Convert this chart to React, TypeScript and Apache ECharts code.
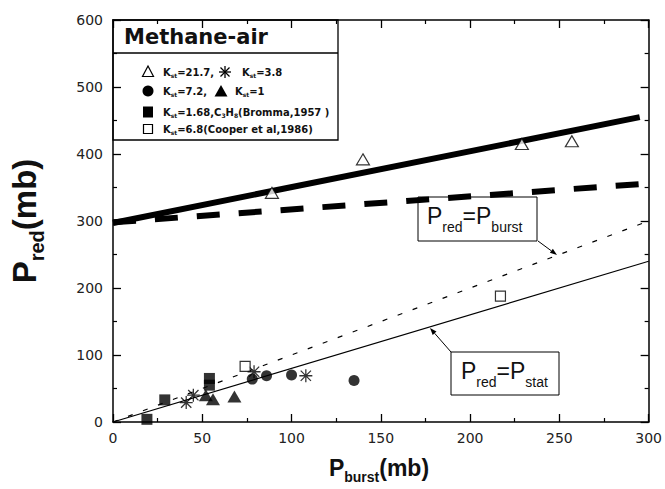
import React, { useEffect, useRef } from "react";
import * as echarts from "echarts";

// ---- axis ranges & ticks ----
const xRange = [0, 300];
const yRange = [0, 600];
const xStep = 50;
const yStep = 100;

// ---- reference lines ----
const upperSolidLine: number[][] = [[0, 297], [295, 455]];
const upperDashedLine: number[][] = [[0, 298], [310, 358]];
const burstLine: number[][] = [[0, 0], [300, 300]]; // Pred = Pburst
const statLine: number[][] = [[0, 0], [300, 240]]; // Pred = Pstat

// ---- measured points ----
const ks217: number[][] = [[89, 342], [140, 392], [229, 415], [257, 419]];
const ks38: number[][] = [[41, 29], [45, 40], [79, 75], [108, 69]];
const ks72: number[][] = [[78, 64], [86, 69], [100, 70], [135, 62]];
const ks1: number[][] = [[52, 40], [56, 34], [68, 38]];
const ks168: number[][] = [[19, 4], [29, 33], [54, 65], [54, 55]];
const ks68: number[][] = [[74, 83], [217, 188]];

// ---- texts ----
const chartTitle = "Methane-air";
const legendTexts = [
  "{n|K}{s|st}{n|=21.7,}",
  "{n|K}{s|st}{n|=3.8}",
  "{n|K}{s|st}{n|=7.2,}",
  "{n|K}{s|st}{n|=1}",
  "{n|K}{s|st}{n|=1.68,C}{s|3}{n|H}{s|8}{n|(Bromma,1957 )}",
  "{n|K}{s|st}{n|=6.8(Cooper et al,1986)}",
];
const burstNote = "{n|P}{s|red}{n|=P}{s|burst}";
const statNote = "{n|P}{s|red}{n|=P}{s|stat}";
const yTitle = "{n|P}{s|red}{n|(mb)}";
const xTitle = "{n|P}{s|burst}{n|(mb)}";

const ASTERISK =
  "path://M0 9H20V11H0Z M9 0H11V20H9Z M2.8 1.4L18.6 17.2L17.2 18.6L1.4 2.8Z M1.4 17.2L17.2 1.4L18.6 2.8L2.8 18.6Z";

const INK = "#111";

function richPair(main: number, sub: number, pad: number, family: string, weight: string) {
  return {
    n: { fontSize: main, fontWeight: weight, fontFamily: family, fill: INK, lineHeight: main },
    s: { fontSize: sub, fontWeight: weight, fontFamily: family, fill: INK, lineHeight: sub, padding: [pad, 0, 0, 0] },
  };
}

function arrow(x1: number, y1: number, x2: number, y2: number) {
  const dx = x2 - x1;
  const dy = y2 - y1;
  const len = Math.sqrt(dx * dx + dy * dy);
  const ux = dx / len;
  const uy = dy / len;
  const hl = 7;
  const hw = 2.5;
  const bx = x2 - ux * hl;
  const by = y2 - uy * hl;
  return [
    { type: "line", shape: { x1, y1, x2: bx, y2: by }, style: { stroke: "#000", lineWidth: 1 }, z: 20 },
    {
      type: "polygon",
      shape: { points: [[x2, y2], [bx - uy * hw, by + ux * hw], [bx + uy * hw, by - ux * hw]] },
      style: { fill: "#000" },
      z: 20,
    },
  ];
}

export default function App() {
  const ref = useRef<HTMLDivElement>(null);

  useEffect(() => {
    if (!ref.current) return;
    const chart = echarts.init(ref.current, null, { renderer: "svg" });

    const axisCommon = {
      type: "value",
      splitLine: { show: false },
      axisLine: { show: true, onZero: false, lineStyle: { color: "#000", width: 1.5 } },
      axisTick: { show: true, inside: true, length: 8, lineStyle: { color: "#000", width: 1.3 } },
      minorTick: { show: true, splitNumber: 2, length: 4, lineStyle: { color: "#000", width: 1.2 } },
    };
    const labelStyle = { fontSize: 14, fontFamily: "DejaVu Sans", color: "#222" };

    const legendRich = richPair(10, 6, 7, "DejaVu Sans", "bold");
    const noteRich = richPair(23, 14, 21, "Liberation Sans", "normal");

    const graphic: any[] = [
      { type: "rect", shape: { x: 113, y: 20, width: 225, height: 120 }, style: { fill: "none", stroke: "#000", lineWidth: 1.3 }, z: 10 },
      { type: "line", shape: { x1: 113, y1: 53, x2: 338, y2: 53 }, style: { stroke: "#000", lineWidth: 1.3 }, z: 10 },
      {
        type: "text", x: 124, y: 37, z: 10,
        style: { text: chartTitle, fontSize: 21, fontWeight: "bold", fontFamily: "DejaVu Sans", fill: INK, verticalAlign: "middle" },
      },
      // legend symbols
      { type: "polygon", shape: { points: [[148, 66], [153.5, 76.5], [142.5, 76.5]] }, style: { fill: "#fff", stroke: "#000", lineWidth: 1.2 }, z: 10 },
      {
        type: "group", x: 225, y: 72, z: 10,
        children: [
          { type: "line", shape: { x1: -6, y1: 0, x2: 6, y2: 0 }, style: { stroke: "#000", lineWidth: 1.3 } },
          { type: "line", shape: { x1: 0, y1: -6, x2: 0, y2: 6 }, style: { stroke: "#000", lineWidth: 1.3 } },
          { type: "line", shape: { x1: -4.5, y1: -4.5, x2: 4.5, y2: 4.5 }, style: { stroke: "#000", lineWidth: 1.3 } },
          { type: "line", shape: { x1: -4.5, y1: 4.5, x2: 4.5, y2: -4.5 }, style: { stroke: "#000", lineWidth: 1.3 } },
        ],
      },
      { type: "circle", shape: { cx: 148, cy: 91, r: 5.5 }, style: { fill: "#000" }, z: 10 },
      { type: "polygon", shape: { points: [[221, 85], [227.5, 96.5], [214.5, 96.5]] }, style: { fill: "#000" }, z: 10 },
      { type: "rect", shape: { x: 143, y: 106.5, width: 10, height: 11 }, style: { fill: "#000" }, z: 10 },
      { type: "rect", shape: { x: 143.5, y: 124.5, width: 9, height: 9 }, style: { fill: "#fff", stroke: "#000", lineWidth: 1.2 }, z: 10 },
      // legend texts
      ...[
        [163, 72, 0], [242, 72, 1], [163, 91, 2], [235, 91, 3], [163, 112, 4], [163, 129, 5],
      ].map(([x, y, i]) => ({
        type: "text", x, y, z: 10,
        style: { text: legendTexts[i], rich: legendRich, verticalAlign: "middle", align: "left" },
      })),
      // annotation boxes
      { type: "rect", shape: { x: 418, y: 197, width: 119, height: 44 }, style: { fill: "none", stroke: "#000", lineWidth: 1 }, z: 20 },
      { type: "text", x: 427, y: 216, z: 20, style: { text: burstNote, rich: noteRich, verticalAlign: "middle", align: "left" } },
      ...arrow(538, 241, 557, 255),
      { type: "rect", shape: { x: 451, y: 352, width: 108, height: 43 }, style: { fill: "#fff", stroke: "#000", lineWidth: 1 }, z: 20 },
      { type: "text", x: 461, y: 371, z: 20, style: { text: statNote, rich: noteRich, verticalAlign: "middle", align: "left" } },
      ...arrow(451, 352, 430, 328),
      // axis titles
      {
        type: "text", x: 24, y: 221, rotation: Math.PI / 2, z: 20,
        style: { text: yTitle, rich: richPair(33, 20, 26, "Liberation Sans", "bold"), align: "center", verticalAlign: "middle" },
      },
      {
        type: "text", x: 379, y: 468, z: 20,
        style: { text: xTitle, rich: richPair(23, 14, 17, "Liberation Sans", "bold"), align: "center", verticalAlign: "middle" },
      },
    ];

    const lineSeries = (data: number[][], width: number, type: any, clip = true) => ({
      type: "line",
      data,
      symbol: "none",
      silent: true,
      clip,
      lineStyle: { color: "#000", width, type },
      z: 3,
    });

    const scatterSeries = (data: number[][], symbol: string, size: any, filled: boolean) => ({
      type: "scatter",
      data,
      symbol,
      symbolSize: size,
      silent: true,
      itemStyle: filled
        ? { color: "#000" }
        : { color: "#fff", borderColor: "#000", borderWidth: 1.2 },
      z: 5,
    });

    chart.setOption({
      animation: false,
      backgroundColor: "#fff",
      grid: { left: 113, right: 13, top: 20, bottom: 67, containLabel: false },
      xAxis: [
        {
          ...axisCommon, position: "bottom", min: xRange[0], max: xRange[1], interval: xStep,
          axisLabel: { ...labelStyle, margin: 9 },
        },
        {
          ...axisCommon, position: "top", min: xRange[0], max: xRange[1], interval: xStep,
          axisLabel: { show: false },
        },
      ],
      yAxis: [
        {
          ...axisCommon, position: "left", min: yRange[0], max: yRange[1], interval: yStep,
          axisLabel: { ...labelStyle, margin: 10 },
        },
        {
          ...axisCommon, position: "right", min: yRange[0], max: yRange[1], interval: yStep,
          axisLabel: { show: false },
        },
      ],
      series: [
        lineSeries(upperSolidLine, 6, "solid"),
        lineSeries(upperDashedLine, 6, [23, 19], false),
        lineSeries(burstLine, 1.2, [5, 11]),
        lineSeries(statLine, 1.2, "solid"),
        scatterSeries(ks217, "triangle", [13, 11], false),
        scatterSeries(ks168, "rect", 11, true),
        scatterSeries(ks1, "triangle", [14, 12], true),
        scatterSeries(ks72, "circle", 11, true),
        scatterSeries(ks38, ASTERISK, 13, true),
        scatterSeries(ks68, "rect", 10, false),
      ],
      graphic,
    });

    return () => chart.dispose();
  }, []);

  return (
    <div
      ref={ref}
      style={{ position: "fixed", left: 0, top: 0, width: 665, height: 489, background: "#fff" }}
    />
  );
}
